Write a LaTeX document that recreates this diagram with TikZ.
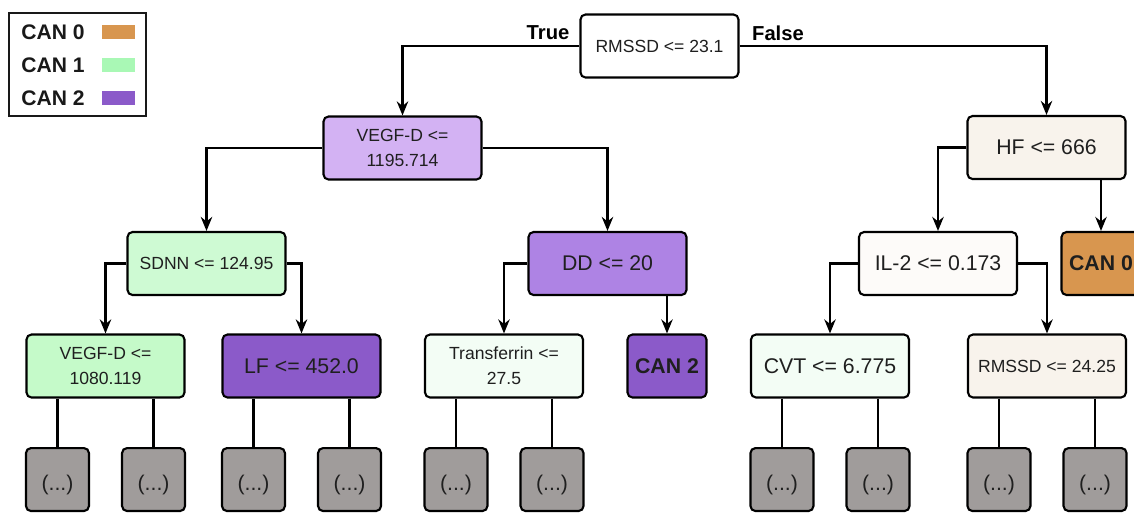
\documentclass[tikz,border=0pt]{standalone}
\usepackage{fontspec}
\setmainfont{Liberation Sans}
\usepackage{xcolor}
\usepackage{tikz}
\usetikzlibrary{arrows.meta,positioning,calc}

\definecolor{can0}{HTML}{D8964F}
\definecolor{can1}{HTML}{A9F8B5}
\definecolor{can2}{HTML}{8B5AC9}
\definecolor{lilac}{HTML}{D3B2F3}
\definecolor{midlilac}{HTML}{AE83E4}
\definecolor{mint}{HTML}{CEFAD3}
\definecolor{paleleaf}{HTML}{C5FAC9}
\definecolor{palemint}{HTML}{F3FDF5}
\definecolor{cream}{HTML}{F8F3EC}
\definecolor{ivory}{HTML}{FDFBF9}
\definecolor{moregray}{HTML}{A09C9B}

\begin{document}
\begin{tikzpicture}[
    x=0.02cm, y=-0.02cm,
    box/.style={draw=black, line width=1.2pt, rounded corners=0.1cm, minimum width=3.16cm, minimum height=1.26cm, inner sep=1pt, align=center, text=black!88, font=\fontsize{12.1}{14.5}\selectfont},
    smalltext/.style={font=\fontsize{10}{14.2}\selectfont},
    leafbox/.style={box, minimum width=1.58cm, font=\bfseries\fontsize{12.1}{14.5}\selectfont},
    more/.style={box, fill=moregray, minimum width=1.26cm, minimum height=1.26cm, text height=12.5pt, text depth=0pt},
    arr/.style={-{Stealth[length=8pt, width=6.5pt]}, line width=1.2pt},
    link/.style={line width=1.2pt},
    branch/.style={font=\bfseries\fontsize{11.5}{13}\selectfont, inner sep=0pt},
    legtext/.style={font=\bfseries\fontsize{12}{14}\selectfont, text=black!90, inner sep=0pt},
    swatch/.style={minimum width=0.66cm, minimum height=0.28cm, inner sep=0pt}
]
    \clip (0,0) rectangle (1134,512);

    % Root
    \node[box, smalltext, fill=white] (root) at (659.5,46) {RMSSD <= 23.1};
    \node[branch] (truelbl) at (548,33) {True};
    \node[branch] (falselbl) at (778,33) {False};

    % Level 1
    \node[box, smalltext, fill=lilac] (vegfa) at (402.5,148) {VEGF-D <=\\1195.714};
    \node[box, fill=cream] (hf) at (1046.5,147.5) {HF <= 666};
    \draw[arr] (root.west) -| (vegfa.north);
    \draw[arr] (root.east) -| (hf.north);

    % Level 2
    \node[box, smalltext, fill=mint] (sdnn) at (206.5,263.5) {SDNN <= 124.95};
    \node[box, fill=midlilac] (dd) at (607.5,263.5) {DD <= 20};
    \node[box, fill=ivory] (il2) at (938,263.5) {IL-2 <= 0.173};
    \node[leafbox, fill=can0] (can0leaf) at (1101,263.5) {CAN 0};
    \draw[arr] (vegfa.west) -| (sdnn.north);
    \draw[arr] (vegfa.east) -| (dd.north);
    \draw[arr] (hf.west) -| (il2.north);
    \draw[arr] (can0leaf.north |- hf.south) -- (can0leaf.north);

    % Level 3
    \node[box, smalltext, fill=paleleaf] (vegfb) at (105.5,366) {VEGF-D <=\\1080.119};
    \node[box, fill=can2] (lf) at (301.5,366) {LF <= 452.0};
    \node[box, smalltext, fill=palemint] (transf) at (504,366) {Transferrin <=\\27.5};
    \node[leafbox, fill=can2] (can2leaf) at (667,366) {CAN 2};
    \node[box, fill=palemint] (cvt) at (830,366) {CVT <= 6.775};
    \node[box, smalltext, fill=cream] (rmssdb) at (1047,366) {RMSSD <= 24.25};
    \draw[arr] (sdnn.west) -| (vegfb.north);
    \draw[arr] (sdnn.east) -| (lf.north);
    \draw[arr] (dd.west) -| (transf.north);
    \draw[arr] (can2leaf.north |- dd.south) -- (can2leaf.north);
    \draw[arr] (il2.west) -| (cvt.north);
    \draw[arr] (il2.east) -| (rmssdb.north);

    % Truncated subtrees
    \foreach \p in {vegfb, lf, transf, cvt, rmssdb} {
        \node[more] (\p-l) at ($(\p.south west)+(32,81)$) {(...)};
        \node[more] (\p-r) at ($(\p.south east)+(-32,81)$) {(...)};
        \draw[link] (\p-l.north |- \p.south) -- (\p-l.north);
        \draw[link] (\p-r.north |- \p.south) -- (\p-r.north);
    }

    % Legend
    \node[draw=black!90, line width=1.2pt, minimum width=2.74cm, minimum height=2.06cm] (legend) at (77.5,64.5) {};
    \foreach \i/\y in {0/32, 1/65, 2/98} {
        \node[legtext, anchor=west] (leg\i) at (21,\y) {CAN \i};
        \node[swatch, fill=can\i] (sw\i) at (118.5,\y) {};
    }
\end{tikzpicture}
\end{document}
